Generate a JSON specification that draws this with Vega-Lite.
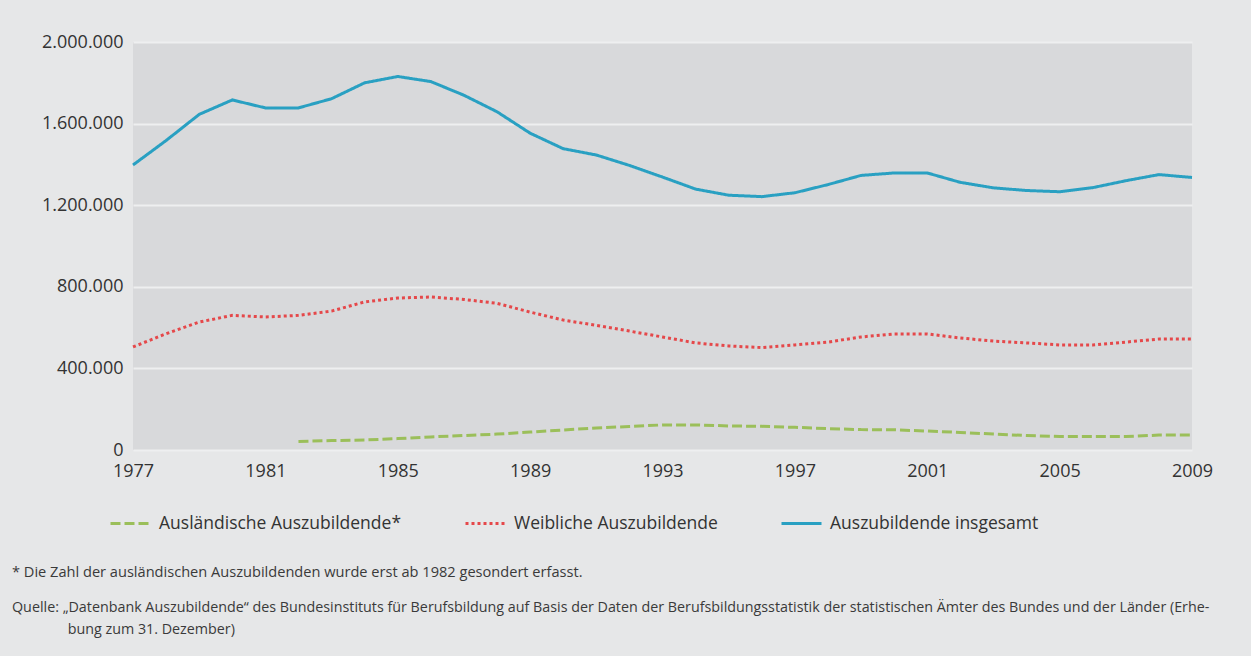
{
  "$schema": "https://vega.github.io/schema/vega-lite/v6.json",
  "width": 1059,
  "height": 408,
  "autosize": {"type": "none"},
  "padding": {"left": 133, "top": 42, "right": 59, "bottom": 206},
  "background": "#e6e7e8",
  "config": {
    "locale": {"number": {"decimal": ",", "thousands": ".", "grouping": [3], "currency": ["", " €"]}},
    "view": {"fill": "#d8d9db", "stroke": null},
    "font": "Open Sans",
    "title": {"font": "Open Sans", "fontSize": 14.6, "fontWeight": "normal", "color": "#3a3a3a", "anchor": "start", "orient": "bottom", "frame": "group", "offset": 33, "dx": -121,
      "subtitleFont": "Open Sans", "subtitleFontSize": 14.3, "subtitleColor": "#3a3a3a", "subtitlePadding": 21, "subtitleLineHeight": 22}
  },
  "title": {
    "text": "* Die Zahl der ausländischen Auszubildenden wurde erst ab 1982 gesondert erfasst.",
    "subtitle": ["Quelle: „Datenbank Auszubildende“ des Bundesinstituts für Berufsbildung auf Basis der Daten der Berufsbildungsstatistik der statistischen Ämter des Bundes und der Länder (Erhe-", "\u200b\u00a0\u00a0\u00a0\u00a0\u00a0\u00a0\u00a0\u00a0\u00a0\u00a0\u00a0\u00a0\u00a0\u00a0\u00a0bung zum 31. Dezember)"]
  },
  "data": {"values": [
    {"year": 1977, "series": "Auszubildende insgesamt", "value": 1397000},
    {"year": 1978, "series": "Auszubildende insgesamt", "value": 1517000},
    {"year": 1979, "series": "Auszubildende insgesamt", "value": 1645000},
    {"year": 1980, "series": "Auszubildende insgesamt", "value": 1716000},
    {"year": 1981, "series": "Auszubildende insgesamt", "value": 1677000},
    {"year": 1982, "series": "Auszubildende insgesamt", "value": 1677000},
    {"year": 1983, "series": "Auszubildende insgesamt", "value": 1722000},
    {"year": 1984, "series": "Auszubildende insgesamt", "value": 1800000},
    {"year": 1985, "series": "Auszubildende insgesamt", "value": 1831000},
    {"year": 1986, "series": "Auszubildende insgesamt", "value": 1806000},
    {"year": 1987, "series": "Auszubildende insgesamt", "value": 1739000},
    {"year": 1988, "series": "Auszubildende insgesamt", "value": 1658000},
    {"year": 1989, "series": "Auszubildende insgesamt", "value": 1553000},
    {"year": 1990, "series": "Auszubildende insgesamt", "value": 1477000},
    {"year": 1991, "series": "Auszubildende insgesamt", "value": 1446000},
    {"year": 1992, "series": "Auszubildende insgesamt", "value": 1395000},
    {"year": 1993, "series": "Auszubildende insgesamt", "value": 1338000},
    {"year": 1994, "series": "Auszubildende insgesamt", "value": 1279000},
    {"year": 1995, "series": "Auszubildende insgesamt", "value": 1249000},
    {"year": 1996, "series": "Auszubildende insgesamt", "value": 1242000},
    {"year": 1997, "series": "Auszubildende insgesamt", "value": 1261000},
    {"year": 1998, "series": "Auszubildende insgesamt", "value": 1301000},
    {"year": 1999, "series": "Auszubildende insgesamt", "value": 1346000},
    {"year": 2000, "series": "Auszubildende insgesamt", "value": 1358000},
    {"year": 2001, "series": "Auszubildende insgesamt", "value": 1358000},
    {"year": 2002, "series": "Auszubildende insgesamt", "value": 1312000},
    {"year": 2003, "series": "Auszubildende insgesamt", "value": 1285000},
    {"year": 2004, "series": "Auszubildende insgesamt", "value": 1272000},
    {"year": 2005, "series": "Auszubildende insgesamt", "value": 1266000},
    {"year": 2006, "series": "Auszubildende insgesamt", "value": 1286000},
    {"year": 2007, "series": "Auszubildende insgesamt", "value": 1320000},
    {"year": 2008, "series": "Auszubildende insgesamt", "value": 1350000},
    {"year": 2009, "series": "Auszubildende insgesamt", "value": 1336000},
    {"year": 1977, "series": "Weibliche Auszubildende", "value": 505000},
    {"year": 1978, "series": "Weibliche Auszubildende", "value": 570000},
    {"year": 1979, "series": "Weibliche Auszubildende", "value": 627000},
    {"year": 1980, "series": "Weibliche Auszubildende", "value": 660000},
    {"year": 1981, "series": "Weibliche Auszubildende", "value": 652000},
    {"year": 1982, "series": "Weibliche Auszubildende", "value": 660000},
    {"year": 1983, "series": "Weibliche Auszubildende", "value": 681000},
    {"year": 1984, "series": "Weibliche Auszubildende", "value": 726000},
    {"year": 1985, "series": "Weibliche Auszubildende", "value": 745000},
    {"year": 1986, "series": "Weibliche Auszubildende", "value": 750000},
    {"year": 1987, "series": "Weibliche Auszubildende", "value": 738000},
    {"year": 1988, "series": "Weibliche Auszubildende", "value": 719000},
    {"year": 1989, "series": "Weibliche Auszubildende", "value": 676000},
    {"year": 1990, "series": "Weibliche Auszubildende", "value": 637000},
    {"year": 1991, "series": "Weibliche Auszubildende", "value": 611000},
    {"year": 1992, "series": "Weibliche Auszubildende", "value": 583000},
    {"year": 1993, "series": "Weibliche Auszubildende", "value": 554000},
    {"year": 1994, "series": "Weibliche Auszubildende", "value": 525000},
    {"year": 1995, "series": "Weibliche Auszubildende", "value": 510000},
    {"year": 1996, "series": "Weibliche Auszubildende", "value": 502000},
    {"year": 1997, "series": "Weibliche Auszubildende", "value": 515000},
    {"year": 1998, "series": "Weibliche Auszubildende", "value": 529000},
    {"year": 1999, "series": "Weibliche Auszubildende", "value": 554000},
    {"year": 2000, "series": "Weibliche Auszubildende", "value": 569000},
    {"year": 2001, "series": "Weibliche Auszubildende", "value": 569000},
    {"year": 2002, "series": "Weibliche Auszubildende", "value": 549000},
    {"year": 2003, "series": "Weibliche Auszubildende", "value": 534000},
    {"year": 2004, "series": "Weibliche Auszubildende", "value": 525000},
    {"year": 2005, "series": "Weibliche Auszubildende", "value": 515000},
    {"year": 2006, "series": "Weibliche Auszubildende", "value": 515000},
    {"year": 2007, "series": "Weibliche Auszubildende", "value": 529000},
    {"year": 2008, "series": "Weibliche Auszubildende", "value": 544000},
    {"year": 2009, "series": "Weibliche Auszubildende", "value": 544000},
    {"year": 1982, "series": "Ausländische Auszubildende*", "value": 42000},
    {"year": 1983, "series": "Ausländische Auszubildende*", "value": 46000},
    {"year": 1984, "series": "Ausländische Auszubildende*", "value": 49000},
    {"year": 1985, "series": "Ausländische Auszubildende*", "value": 56000},
    {"year": 1986, "series": "Ausländische Auszubildende*", "value": 64000},
    {"year": 1987, "series": "Ausländische Auszubildende*", "value": 71000},
    {"year": 1988, "series": "Ausländische Auszubildende*", "value": 78000},
    {"year": 1989, "series": "Ausländische Auszubildende*", "value": 88000},
    {"year": 1990, "series": "Ausländische Auszubildende*", "value": 98000},
    {"year": 1991, "series": "Ausländische Auszubildende*", "value": 108000},
    {"year": 1992, "series": "Ausländische Auszubildende*", "value": 115000},
    {"year": 1993, "series": "Ausländische Auszubildende*", "value": 123000},
    {"year": 1994, "series": "Ausländische Auszubildende*", "value": 123000},
    {"year": 1995, "series": "Ausländische Auszubildende*", "value": 118000},
    {"year": 1996, "series": "Ausländische Auszubildende*", "value": 116000},
    {"year": 1997, "series": "Ausländische Auszubildende*", "value": 111000},
    {"year": 1998, "series": "Ausländische Auszubildende*", "value": 105000},
    {"year": 1999, "series": "Ausländische Auszubildende*", "value": 100000},
    {"year": 2000, "series": "Ausländische Auszubildende*", "value": 99000},
    {"year": 2001, "series": "Ausländische Auszubildende*", "value": 93000},
    {"year": 2002, "series": "Ausländische Auszubildende*", "value": 86000},
    {"year": 2003, "series": "Ausländische Auszubildende*", "value": 78000},
    {"year": 2004, "series": "Ausländische Auszubildende*", "value": 71000},
    {"year": 2005, "series": "Ausländische Auszubildende*", "value": 66000},
    {"year": 2006, "series": "Ausländische Auszubildende*", "value": 66000},
    {"year": 2007, "series": "Ausländische Auszubildende*", "value": 66000},
    {"year": 2008, "series": "Ausländische Auszubildende*", "value": 73000},
    {"year": 2009, "series": "Ausländische Auszubildende*", "value": 73000}
  ]},
  "mark": {"type": "line", "strokeWidth": 3},
  "encoding": {
    "x": {"field": "year", "type": "quantitative",
      "scale": {"domain": [1977, 2009], "nice": false, "zero": false},
      "axis": {"title": null, "values": [1977, 1981, 1985, 1989, 1993, 1997, 2001, 2005, 2009], "format": "d", "grid": false, "domain": false, "ticks": false,
        "labelFont": "Open Sans", "labelFontSize": 18, "labelColor": "#333333", "labelPadding": 12, "labelFlush": false}},
    "y": {"field": "value", "type": "quantitative",
      "scale": {"domain": [0, 2000000], "nice": false},
      "axis": {"title": null, "values": [0, 400000, 800000, 1200000, 1600000, 2000000], "format": ",d", "domain": false, "ticks": false,
        "gridColor": "#eeeff0", "gridWidth": 2, "gridOpacity": 1,
        "labelFont": "Open Sans", "labelFontSize": 18, "labelColor": "#333333", "labelPadding": 10}},
    "color": {"field": "series", "type": "nominal",
      "scale": {"domain": ["Ausländische Auszubildende*", "Weibliche Auszubildende", "Auszubildende insgesamt"], "range": ["#9bbf5a", "#e5484a", "#29a0c2"]},
      "legend": {"title": null, "orient": "none", "legendX": -24, "legendY": 460, "direction": "horizontal", "columnPadding": 57,
        "symbolType": "stroke", "symbolSize": 1600, "symbolStrokeWidth": 3, "labelFont": "Open Sans", "labelFontSize": 17.5, "labelColor": "#333333", "labelOffset": 7, "labelLimit": 400}},
    "strokeDash": {"field": "series", "type": "nominal",
      "scale": {"domain": ["Ausländische Auszubildende*", "Weibliche Auszubildende", "Auszubildende insgesamt"], "range": [[10, 4], [3, 3], [1, 0]]},
      "legend": {"title": null, "orient": "none", "legendX": -24, "legendY": 460, "direction": "horizontal", "columnPadding": 57,
        "symbolType": "stroke", "symbolSize": 1600, "symbolStrokeWidth": 3, "labelFont": "Open Sans", "labelFontSize": 17.5, "labelColor": "#333333", "labelOffset": 7, "labelLimit": 400}}
  }
}
